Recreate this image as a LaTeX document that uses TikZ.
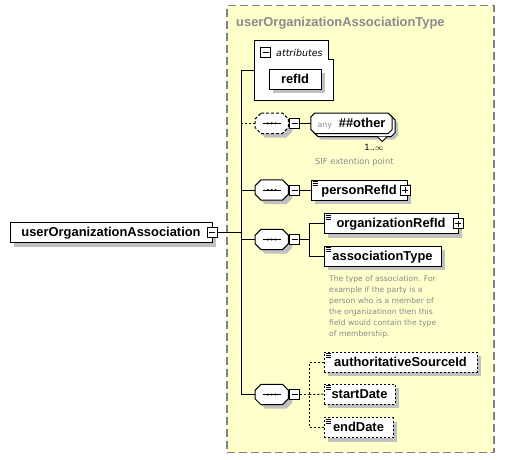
\documentclass[tikz,border=0pt]{standalone}
\usepackage{fontspec}
\setmainfont{Liberation Sans}
\newfontfamily\dvs{DejaVu Sans}
\usetikzlibrary{calc,shadows}
\pgfdeclarelayer{back}
\pgfdeclarelayer{mid}
\pgfsetlayers{back,mid,main}
\definecolor{cyel}{RGB}{255,255,204}
\definecolor{cshad}{RGB}{192,192,192}
\definecolor{cbord}{RGB}{128,128,128}
\definecolor{ctxt}{RGB}{138,138,138}

\newcommand\octo[3]{%
  \draw[#1] ([xshift=#3]#2.north west) -- ([xshift=-#3]#2.north east) -- ([yshift=-#3]#2.north east) -- ([yshift=#3]#2.south east) -- ([xshift=-#3]#2.south east) -- ([xshift=#3]#2.south west) -- ([yshift=#3]#2.south west) -- ([yshift=-#3]#2.north west) -- cycle;}
\newcommand\seqdots[1]{%
  \draw[line width=1pt] ([xshift=-9pt]#1.center) -- ([xshift=9pt]#1.center);
  \foreach \dx in {-3.8,0,3.8} {\fill ([xshift=\dx*1pt]#1.center) circle[radius=1.15pt];}}
\newcommand\docicon[1]{%
  \foreach \dy in {2,4,6} {\draw[line width=0.8pt] ([xshift=2pt,yshift=-\dy*1pt]#1.north west) -- ([xshift=7pt,yshift=-\dy*1pt]#1.north west);}}

\tikzset{
  conn/.style={line width=1pt},
  optconn/.style={line width=1pt, dash pattern=on 2pt off 2pt},
  elem/.style={draw, fill=white, line width=1pt, minimum height=20pt, inner sep=0pt,
    text height=9.5pt, text depth=1pt, font=\fontsize{12.9pt}{14pt}\selectfont\bfseries,
    drop shadow={shadow xshift=4pt, shadow yshift=-4pt, opacity=1, fill=cshad}},
  optelem/.style={elem, dash pattern=on 2pt off 2pt},
  tog/.style={draw, fill=white, line width=1pt, minimum size=10pt, inner sep=0pt,
    path picture={\draw[line width=1pt] ([xshift=2pt]path picture bounding box.west) -- ([xshift=-2pt]path picture bounding box.east);}},
  plusbox/.style={draw, fill=white, line width=1pt, minimum size=10pt, inner sep=0pt,
    path picture={\draw[line width=1pt] ([xshift=2pt]path picture bounding box.west) -- ([xshift=-2pt]path picture bounding box.east);
      \draw[line width=1pt] ([yshift=2pt]path picture bounding box.south) -- ([yshift=-2pt]path picture bounding box.north);}},
  seqbox/.style={minimum width=33pt, minimum height=20pt, inner sep=0pt},
  small/.style={font=\dvs\fontsize{#1}{11.15pt}\selectfont, text=ctxt, inner sep=0pt},
  container/.style={draw=cbord, fill=cyel, line width=1.5pt, dash pattern=on 8pt off 4pt, inner sep=0pt},
}

\begin{document}
\begin{tikzpicture}[x=1pt, y=-1pt]
\useasboundingbox (0,0) rectangle (505,459);

\begin{pgfonlayer}{back}
  \node[container, minimum width=267pt, minimum height=447pt] (ctr) at (360.5,229) {};
\end{pgfonlayer}

\node[anchor=base west, inner sep=0pt, text=ctxt, font=\fontsize{12.9pt}{14pt}\selectfont\bfseries] (title) at (236,26) {userOrganizationAssociationType};

% attributes
\node[minimum width=78pt, minimum height=59pt, inner sep=0pt] (attrs) at (294,70.5) {};
\begin{pgfonlayer}{mid}
  \draw[fill=white, line width=1pt] (attrs.north west) -- ([xshift=-5pt]attrs.north east) -- ([xshift=-5pt,yshift=-19pt]attrs.north east) -- ([yshift=-19pt]attrs.north east) -- (attrs.south east) -- (attrs.south west) -- cycle;
\end{pgfonlayer}
\node[tog] (attrm) at (265.5,52) {};
\node[anchor=west, inner sep=0pt, font=\dvs\fontsize{9.5pt}{11pt}\selectfont\itshape] (attrl) at (276,52.5) {attributes};
\node[elem, minimum width=52pt] (refid) at (295,79.3) {refId};

% main element
\node[elem, minimum width=202pt] (main) at (111,232.7) {userOrganizationAssociation};
\node[tog] (mainm) at (212.3,232.7) {};

% sequences
\node[seqbox] (s1) at (271.7,123.3) {};
\node[seqbox] (s2) at (271.7,190) {};
\node[seqbox] (s3) at (271.7,239.5) {};
\node[seqbox] (s4) at (271.7,394.5) {};
\node[tog] (s1m) at (294.7,123.3) {};
\node[tog] (s2m) at (294.7,190) {};
\node[tog] (s3m) at (294.7,239.5) {};
\node[tog] (s4m) at (294.7,394.5) {};

% any
\node[minimum width=81pt, minimum height=20pt, inner sep=0pt, text height=9.5pt, text depth=1pt, font=\fontsize{12.9pt}{14pt}\selectfont] (any) at (351.5,123.3) {{\dvs\fontsize{7.8pt}{9pt}\selectfont\color{ctxt}any}\hspace{7pt}{\bfseries\#\#other}};
\node[inner sep=0pt, font=\dvs\fontsize{8.5pt}{10pt}\selectfont] (mult) at (374,147) {1..$\infty$};
\node[small=8.3pt, anchor=west] (sif) at (315,162.7) {SIF extention point};

\begin{pgfonlayer}{mid}
  \foreach \s in {s2,s3,s4} {
    \octo{fill=cshad, draw=none, transform canvas={xshift=4pt,yshift=-4pt}}{\s}{6pt}
    \octo{fill=white, draw=black, line width=1pt}{\s}{6pt}
  }
  \octo{fill=cshad, draw=none, transform canvas={xshift=4pt,yshift=-4pt}}{s1}{6pt}
  \octo{fill=white, draw=black, line width=1pt, dash pattern=on 3pt off 2pt}{s1}{6pt}
  \octo{fill=cshad, draw=none, transform canvas={xshift=6pt,yshift=-6pt}}{any}{4pt}
  \octo{fill=white, draw=black, line width=1pt, transform canvas={xshift=3pt,yshift=-3pt}}{any}{4pt}
  \draw[fill=white, line width=0.8pt] ([xshift=-15pt,yshift=-3pt]any.south east) -- ([xshift=-10pt,yshift=-8pt]any.south east) -- ([xshift=-5pt,yshift=-3pt]any.south east);
  \octo{fill=white, draw=black, line width=1pt}{any}{4pt}
\end{pgfonlayer}
\foreach \s in {s1,s2,s3,s4} {\seqdots{\s}}

% elements
\node[elem, minimum width=96pt] (person) at (359,190) {personRefId};
\node[plusbox] (pplus) at (405,190) {};
\node[elem, minimum width=134pt] (org) at (391,223.7) {organizationRefId};
\node[plusbox] (oplus) at (458,223.7) {};
\node[elem, minimum width=117pt] (assoc) at (382.5,256) {associationType};
\node[small=7.65pt, anchor=north west, align=left] (descr) at (329,275) {The type of association. For\\example if the party is a\\person who is a member of\\the organizatinon then this\\field would contain the type\\of membership.};
\node[optelem, minimum width=153pt] (auth) at (400.5,362) {authoritativeSourceId};
\node[optelem, minimum width=71pt] (sdate) at (359.5,394.2) {startDate};
\node[optelem, minimum width=69pt] (edate) at (358.5,427.5) {endDate};
\foreach \e in {person,org,assoc,auth,sdate,edate} {\docicon{\e}}

% connectors
\coordinate (tk) at (241,232.7);
\draw[conn] (mainm.east) -- (tk);
\draw[conn] (attrs.west) -| (tk);
\draw[conn] (tk) |- (s4.west);
\draw[optconn] (tk |- s1.west) -- (s1.west);
\draw[conn] (tk |- s2.west) -- (s2.west);
\draw[conn] (tk |- s3.west) -- (s3.west);
\draw[conn] (s1m.east) -- (any.west);
\draw[conn] (s2m.east) -- (person.west);
\coordinate (b3) at (309.3,239.5);
\draw[conn] (s3m.east) -- (b3);
\draw[conn] (org.west) -| (b3) |- (assoc.west);
\coordinate (b4) at (309.3,394.5);
\draw[optconn] (s4m.east) -- (b4);
\draw[optconn] (auth.west) -| (b4) |- (edate.west);
\draw[optconn] (b4) -- (sdate.west);
\end{tikzpicture}
\end{document}
